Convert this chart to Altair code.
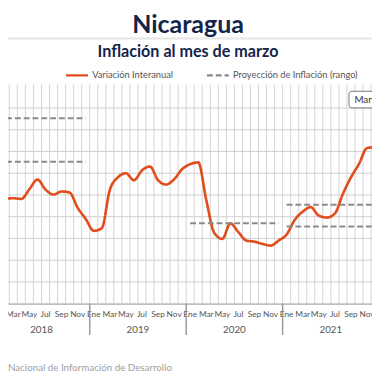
import altair as alt
import pandas as pd

# ---------------- data ----------------
years = [2018, 2019, 2020, 2021]
month_names = ["Ene", "Feb", "Mar", "Abr", "May", "Jun",
               "Jul", "Ago", "Sep", "Oct", "Nov", "Dic"]
# Variación interanual (%), Ene 2018 .. Dic 2021
inflation = [
    4.85, 4.83, 4.85, 4.82, 5.27, 5.71, 5.25, 5.02, 5.16, 5.11, 4.41, 3.90,
    3.35, 3.47, 5.23, 5.81, 6.00, 5.68, 6.13, 6.31, 5.68, 5.48, 5.72, 6.19,
    6.42, 6.50, 4.77, 3.25, 2.98, 3.69, 3.29, 2.90, 2.85, 2.75, 2.67, 2.90,
    3.18, 3.85, 4.23, 4.44, 4.05, 3.96, 4.15, 5.05, 5.81, 6.43, 7.16, 7.20,
]
proj_year = [2018, 2018, 2020, 2021, 2021]
proj_value = [6.53, 8.53, 3.70, 3.55, 4.55]
y_grid = [0, 1, 2, 3, 4, 5, 6, 7, 8, 9]

S1 = "Variación Interanual"
S2 = "Proyección de Inflación (rango)"
ORANGE = "#E04E1E"
GRAY = "#8a8a8a"
NAVY = "#14254a"
FONT = "Lato"

X_DOMAIN = [1.333, 46.62]
Y_DOMAIN = [0, 10.09]
W, H = 372, 224

n = len(inflation)
df_line = pd.DataFrame({
    "m": list(range(n)),
    "valor": inflation,
    "serie": S1,
})
df_proj = pd.DataFrame({
    "x0": [(y - years[0]) * 12 for y in proj_year],
    "x1": [(y - years[0]) * 12 + 11 for y in proj_year],
    "valor": proj_value,
    "serie": S2,
})
df_lab = pd.DataFrame({
    "m": [i for i in range(n) if i % 2 == 0],
    "nombre": [month_names[i % 12] for i in range(n) if i % 2 == 0],
})
df_lab = df_lab[(df_lab.m > X_DOMAIN[0]) & (df_lab.m < X_DOMAIN[1] + 1)]
df_year = pd.DataFrame({"m": [(y - years[0]) * 12 + 5.5 for y in years],
                        "anio": [str(y) for y in years]})
df_div = pd.DataFrame({"m": [(y - years[0]) * 12 - 0.5 for y in years[1:]]})
df_vgrid = pd.DataFrame({"m": [i - 0.5 for i in range(n + 1)]})
df_hgrid = pd.DataFrame({"v": y_grid})

xs = alt.Scale(domain=X_DOMAIN, nice=False, zero=False)
ys = alt.Scale(domain=Y_DOMAIN, nice=False, zero=False)
XAX = alt.Axis(grid=False, labels=False, ticks=False, domain=True, title=None,
               domainColor="#a8a8a8", domainWidth=1.6)
YAX = alt.Axis(grid=False, labels=False, ticks=False, domain=False, title=None)


def X(field):
    return alt.X(field, scale=xs, axis=XAX)


def Y(field):
    return alt.Y(field, scale=ys, axis=YAX)


color = alt.Color("serie:N",
                  scale=alt.Scale(domain=[S1, S2], range=[ORANGE, GRAY]),
                  legend=alt.Legend(orient="none", legendX=58, legendY=-22,
                                    direction="horizontal", title=None,
                                    symbolType="stroke", symbolSize=500,
                                    symbolStrokeWidth=2.5, labelFont=FONT,
                                    labelFontSize=9.5, labelColor="#555555",
                                    columnPadding=29, labelOffset=3))
dash = alt.StrokeDash("serie:N",
                      scale=alt.Scale(domain=[S1, S2], range=[[1, 0], [6, 3]]),
                      legend=None)

vgrid = alt.Chart(df_vgrid).mark_rule(color="#d4d4d4", strokeWidth=1,
                                      clip=True).encode(x=X("m:Q"))
hgrid = alt.Chart(df_hgrid).mark_rule(color="#d0d0d0", strokeWidth=1).encode(
    y=Y("v:Q"))

line = alt.Chart(df_line).mark_line(interpolate="monotone", strokeWidth=2.7,
                                    clip=True).encode(
    x=X("m:Q"), y=Y("valor:Q"), color=color, strokeDash=dash)

proj = alt.Chart(df_proj).mark_rule(strokeWidth=2, clip=True).encode(
    x=X("x0:Q"), x2="x1:Q", y=Y("valor:Q"), color=color, strokeDash=dash)

labels = alt.Chart(df_lab).mark_text(font=FONT, fontSize=8.5, color="#555555",
                                     baseline="middle").encode(
    x=X("m:Q"), y=alt.value(H + 11), text="nombre:N")

ylabels = alt.Chart(df_year).mark_text(font=FONT, fontSize=10, color="#555555",
                                       baseline="middle").encode(
    x=X("m:Q"), y=alt.value(H + 27), text="anio:N")

dividers = alt.Chart(df_div).mark_rule(color="#9a9a9a", strokeWidth=1.5).encode(
    x=X("m:Q"), y=alt.value(H), y2=alt.value(H + 32))

title = alt.Chart(pd.DataFrame({"t": ["Nicaragua"]})).mark_text(
    font=FONT, fontSize=25.5, fontWeight="bold", color=NAVY,
    baseline="alphabetic").encode(
    x=alt.value(184), y=alt.value(-53), text="t:N")

sep = alt.Chart(pd.DataFrame({"a": [0]})).mark_rule(
    color="#e6e6e6", strokeWidth=2).encode(
    x=alt.value(-10), x2=alt.value(W + 10), y=alt.value(-47))

subtitle = alt.Chart(pd.DataFrame({"t": ["Inflación al mes de marzo"]})).mark_text(
    font=FONT, fontSize=16.5, fontWeight="bold", color=NAVY,
    baseline="alphabetic").encode(
    x=alt.value(184), y=alt.value(-28), text="t:N")

source = alt.Chart(pd.DataFrame({"t": ["Nacional de Información de  Desarrollo"]})).mark_text(
    font=FONT, fontSize=10, color="#a0a0a0", align="left",
    baseline="middle").encode(
    x=alt.value(0), y=alt.value(H + 66), text="t:N")

box = alt.Chart(pd.DataFrame({"a": [0]})).mark_rect(
    fill="white", stroke="#777777", strokeWidth=1, cornerRadius=3).encode(
    x=alt.value(348.5), x2=alt.value(W + 20), y=alt.value(7), y2=alt.value(24))

boxtext = alt.Chart(pd.DataFrame({"t": ["Mar"]})).mark_text(
    font=FONT, fontSize=10, color="#333333", align="left",
    baseline="middle").encode(
    x=alt.value(354), y=alt.value(15.5), text="t:N")

chart = alt.layer(
    vgrid, hgrid, line, proj, labels, ylabels, dividers, title, sep, subtitle,
    source, box, boxtext
).properties(
    width=W, height=H,
    autosize=alt.AutoSizeParams(type="none"),
    padding={"left": 0, "right": 0, "top": 74, "bottom": 74},
).configure_view(stroke=None).resolve_scale(color="shared", strokeDash="shared")

chart.save("out.html", embed_options={"renderer": "svg", "actions": False})
